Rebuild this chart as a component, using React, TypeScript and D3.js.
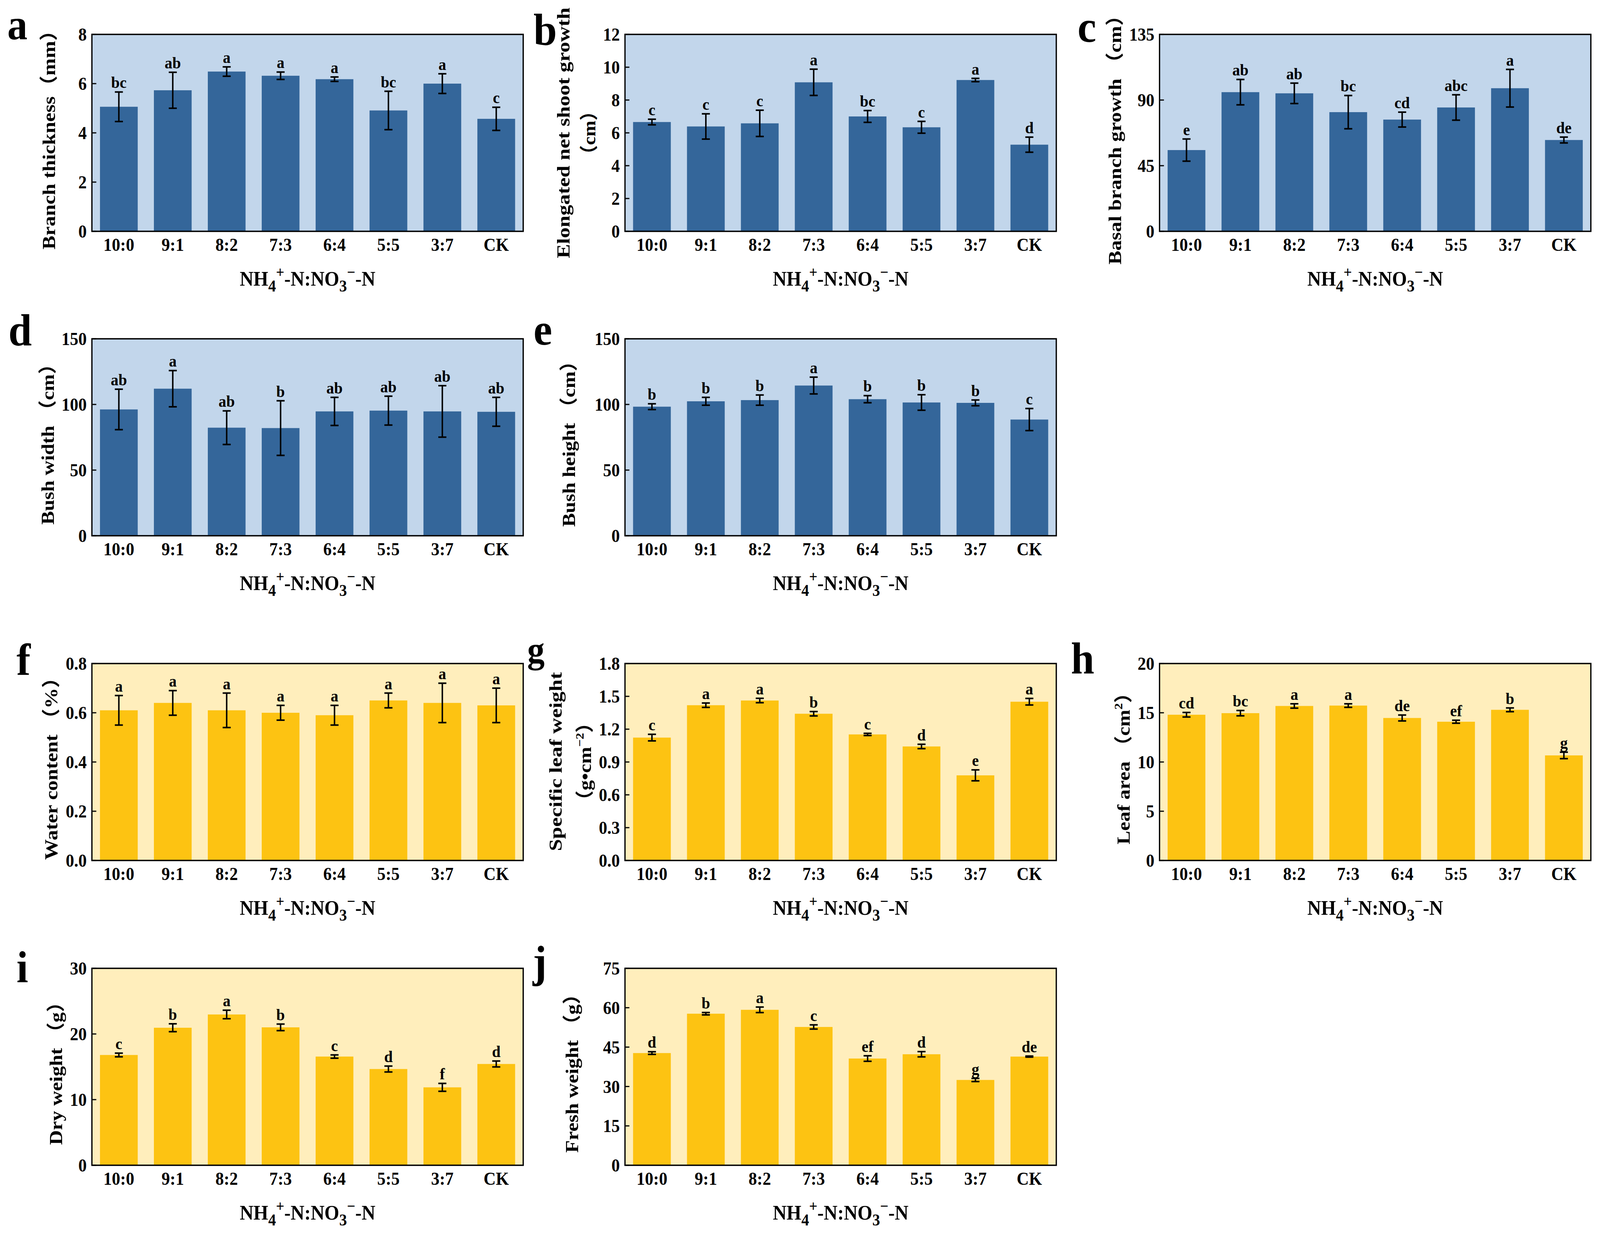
import React from "react";
import * as d3 from "d3";

// treatments (NH4+-N : NO3--N ratio)
const categories = ["10:0", "9:1", "8:2", "7:3", "6:4", "5:5", "3:7", "CK"];

// a - branch thickness (mm)
const branchThickness = [5.06, 5.73, 6.49, 6.32, 6.18, 4.91, 6.0, 4.57];
const branchThicknessErr = [0.6, 0.73, 0.19, 0.15, 0.09, 0.78, 0.4, 0.47];
const branchThicknessSig = ["bc", "ab", "a", "a", "a", "bc", "a", "c"];
const ticksA = [0, 2, 4, 6, 8];

// b - elongated net shoot growth (cm)
const shootGrowth = [6.66, 6.39, 6.58, 9.08, 7.0, 6.34, 9.22, 5.28];
const shootGrowthErr = [0.17, 0.77, 0.8, 0.8, 0.36, 0.36, 0.1, 0.46];
const shootGrowthSig = ["c", "c", "c", "a", "bc", "c", "a", "d"];
const ticksB = [0, 2, 4, 6, 8, 10, 12];

// c - basal branch growth (cm)
const basalGrowth = [55.7, 95.4, 94.6, 81.7, 76.6, 84.9, 98.1, 62.6];
const basalGrowthErr = [7.6, 8.7, 7.0, 11.4, 5.1, 8.7, 12.9, 2.0];
const basalGrowthSig = ["e", "ab", "ab", "bc", "cd", "abc", "a", "de"];
const ticksC = [0, 45, 90, 135];

// d - bush width (cm)
const bushWidth = [96.2, 112.0, 82.3, 82.0, 94.7, 95.3, 94.7, 94.4];
const bushWidthErr = [15.4, 13.8, 12.8, 20.8, 10.7, 11.0, 19.6, 11.0];
const bushWidthSig = ["ab", "a", "ab", "b", "ab", "ab", "ab", "ab"];
const ticksD = [0, 50, 100, 150];

// e - bush height (cm)
const bushHeight = [98.3, 102.4, 103.3, 114.4, 104.0, 101.5, 101.2, 88.5];
const bushHeightErr = [2.2, 3.0, 3.9, 6.4, 2.7, 5.9, 2.2, 8.4];
const bushHeightSig = ["b", "b", "b", "a", "b", "b", "b", "c"];
const ticksE = [0, 50, 100, 150];

// f - water content
const waterContent = [0.61, 0.64, 0.61, 0.6, 0.59, 0.65, 0.64, 0.63];
const waterContentErr = [0.06, 0.05, 0.07, 0.03, 0.04, 0.03, 0.08, 0.07];
const waterContentSig = ["a", "a", "a", "a", "a", "a", "a", "a"];
const ticksF = [0, 0.2, 0.4, 0.6, 0.8];

// g - specific leaf weight
const leafWeight = [1.123, 1.419, 1.462, 1.341, 1.152, 1.042, 0.778, 1.451];
const leafWeightErr = [0.03, 0.02, 0.02, 0.02, 0.01, 0.02, 0.05, 0.03];
const leafWeightSig = ["c", "a", "a", "b", "c", "d", "e", "a"];
const ticksG = [0, 0.3, 0.6, 0.9, 1.2, 1.5, 1.8];

// h - leaf area (cm2)
const leafArea = [14.8, 14.96, 15.69, 15.73, 14.47, 14.09, 15.3, 10.67];
const leafAreaErr = [0.23, 0.27, 0.22, 0.18, 0.3, 0.15, 0.19, 0.33];
const leafAreaSig = ["cd", "bc", "a", "a", "de", "ef", "b", "g"];
const ticksH = [0, 5, 10, 15, 20];

// i - dry weight (g)
const dryWeight = [16.8, 20.95, 22.97, 21.01, 16.56, 14.66, 11.87, 15.43];
const dryWeightErr = [0.28, 0.6, 0.65, 0.5, 0.25, 0.45, 0.6, 0.45];
const dryWeightSig = ["c", "b", "a", "b", "c", "d", "f", "d"];
const ticksI = [0, 10, 20, 30];

// j - fresh weight (g)
const freshWeight = [42.73, 57.72, 59.2, 52.67, 40.65, 42.28, 32.49, 41.39];
const freshWeightErr = [0.5, 0.45, 1.05, 0.8, 1.05, 1.0, 0.6, 0.2];
const freshWeightSig = ["d", "b", "a", "c", "ef", "d", "g", "de"];
const ticksJ = [0, 15, 30, 45, 60, 75];

const FONT = "'Liberation Serif', 'Times New Roman', 'Noto Sans CJK SC', serif";
const FIG_W = 4370;
const FIG_H = 3163;
const W = 1178;
const H = 504;
const colX = [251, 1707, 3167];
const rowY = [88, 867, 1698, 2478];

const themes = {
  blue: { bg: "#c2d6eb", bar: "#34669a" },
  yellow: { bg: "#ffeebc", bar: "#fdc312" },
};

type Seg = { t: string; sup?: boolean };

interface PanelDef {
  label: string;
  col: number;
  row: number;
  values: number[];
  errs: number[];
  sig: string[];
  ticks: number[];
  decimals: number;
  theme: "blue" | "yellow";
  title: Seg[][];
  titleX: number[]; // offset of each title line from the plot's left edge
  titleDy: number[]; // offset of the line centre from the plot's middle
  titleLen: number[];
  labelPos: [number, number];
  labelSize?: number;
}

const panels: PanelDef[] = [
  { label: "a", col: 0, row: 0, values: branchThickness, errs: branchThicknessErr, sig: branchThicknessSig, ticks: ticksA, decimals: 0, theme: "blue",
    title: [[{ t: "Branch thickness（mm）" }]], titleX: [-118], titleDy: [5], titleLen: [587], labelPos: [-231, 12], labelSize: 110 },
  { label: "b", col: 1, row: 0, values: shootGrowth, errs: shootGrowthErr, sig: shootGrowthSig, ticks: ticksB, decimals: 0, theme: "blue",
    title: [[{ t: "Elongated net shoot growth" }], [{ t: "（cm）" }]], titleX: [-168, -98], titleDy: [0, 0], titleLen: [642, 161], labelPos: [-250, 27] },
  { label: "c", col: 2, row: 0, values: basalGrowth, errs: basalGrowthErr, sig: basalGrowthSig, ticks: ticksC, decimals: 0, theme: "blue",
    title: [[{ t: "Basal branch growth （cm）" }]], titleX: [-122], titleDy: [5], titleLen: [664], labelPos: [-224, 19] },
  { label: "d", col: 0, row: 1, values: bushWidth, errs: bushWidthErr, sig: bushWidthSig, ticks: ticksD, decimals: 0, theme: "blue",
    title: [[{ t: "Bush width （cm）" }]], titleX: [-121], titleDy: [5], titleLen: [437], labelPos: [-228, 17] },
  { label: "e", col: 1, row: 1, values: bushHeight, errs: bushHeightErr, sig: bushHeightSig, ticks: ticksE, decimals: 0, theme: "blue",
    title: [[{ t: "Bush height （cm）" }]], titleX: [-154], titleDy: [4], titleLen: [450], labelPos: [-250, 15] },
  { label: "f", col: 0, row: 2, values: waterContent, errs: waterContentErr, sig: waterContentSig, ticks: ticksF, decimals: 1, theme: "yellow",
    title: [[{ t: "Water content （%）" }]], titleX: [-111], titleDy: [4], titleLen: [493], labelPos: [-206, 29] },
  { label: "g", col: 1, row: 2, values: leafWeight, errs: leafWeightErr, sig: leafWeightSig, ticks: ticksG, decimals: 1, theme: "yellow",
    title: [[{ t: "Specific leaf weight" }], [{ t: "（g•cm" }, { t: "−2", sup: true }, { t: "）" }]], titleX: [-190, -110], titleDy: [-1, -1], titleLen: [458, 252],
    labelPos: [-267, -2], labelSize: 95 },
  { label: "h", col: 2, row: 2, values: leafArea, errs: leafAreaErr, sig: leafAreaSig, ticks: ticksH, decimals: 0, theme: "yellow",
    title: [[{ t: "Leaf area （cm" }, { t: "2", sup: true }, { t: "）" }]], titleX: [-99], titleDy: [4], titleLen: [414], labelPos: [-242, 26] },
  { label: "i", col: 0, row: 3, values: dryWeight, errs: dryWeightErr, sig: dryWeightSig, ticks: ticksI, decimals: 0, theme: "yellow",
    title: [[{ t: "Dry weight （g）" }]], titleX: [-98], titleDy: [4], titleLen: [392], labelPos: [-206, 36] },
  { label: "j", col: 1, row: 3, values: freshWeight, errs: freshWeightErr, sig: freshWeightSig, ticks: ticksJ, decimals: 0, theme: "yellow",
    title: [[{ t: "Fresh weight （g）" }]], titleX: [-145], titleDy: [4], titleLen: [432], labelPos: [-252, 22] },
];

function TitleLine({ segs }: { segs: Seg[] }) {
  // superscripts shift up (towards screen-left once rotated) and come back
  const out: React.ReactNode[] = [];
  let raised = false;
  segs.forEach((s, i) => {
    if (s.sup) {
      out.push(<tspan key={i} fontSize={32} dy={-20}>{s.t}</tspan>);
      raised = true;
    } else {
      out.push(<tspan key={i} dy={raised ? 20 : 0}>{s.t}</tspan>);
      raised = false;
    }
  });
  return <>{out}</>;
}

function Panel({ p }: { p: PanelDef }) {
  const left = colX[p.col];
  const top = rowY[p.row];
  const theme = themes[p.theme];

  const x = d3.scaleBand<string>().domain(categories).range([0, W]).paddingInner(0.3).paddingOuter(0.15);
  const y = d3.scaleLinear().domain([0, p.ticks[p.ticks.length - 1]]).range([H, 0]);
  const fmt = d3.format(`.${p.decimals}f`);
  const bw = x.bandwidth();
  const mid = (c: string) => (x(c) ?? 0) + bw / 2;

  return (
    <g transform={`translate(${left},${top})`}>
      <rect x={0} y={0} width={W} height={H} fill={theme.bg} />
      {categories.map((c, i) => (
        <rect key={c} x={x(c)} y={y(p.values[i])} width={bw} height={H - y(p.values[i])} fill={theme.bar} />
      ))}
      {categories.map((c, i) => {
        const cx = mid(c);
        const hi = y(p.values[i] + p.errs[i]);
        const lo = y(p.values[i] - p.errs[i]);
        return (
          <g key={c} stroke="#000" strokeWidth={4}>
            <line x1={cx} x2={cx} y1={hi} y2={lo} />
            <line x1={cx - 11} x2={cx + 11} y1={hi} y2={hi} />
            <line x1={cx - 11} x2={cx + 11} y1={lo} y2={lo} />
          </g>
        );
      })}
      {categories.map((c, i) => (
        <text key={c} x={mid(c)} y={y(p.values[i] + p.errs[i]) - 10} textAnchor="middle"
          fontFamily={FONT} fontWeight="bold" fontSize={42}>{p.sig[i]}</text>
      ))}
      {/* y ticks, pointing inward */}
      {p.ticks.map((t) => (
        <g key={t} transform={`translate(0,${y(t)})`}>
          <line x1={0} x2={12} stroke="#000" strokeWidth={3} />
          <text x={-14} dy="0.35em" textAnchor="end" fontFamily={FONT} fontWeight="bold" fontSize={46}>{fmt(t)}</text>
        </g>
      ))}
      {categories.map((c) => (
        <text key={c} x={mid(c)} y={H + 50} textAnchor="middle" fontFamily={FONT} fontWeight="bold" fontSize={46}>{c}</text>
      ))}
      <rect x={0} y={0} width={W} height={H} fill="none" stroke="#000" strokeWidth={3.5} />
      {/* x axis title */}
      <text x={W / 2} y={H + 139} textAnchor="middle" fontFamily={FONT} fontWeight="bold" fontSize={52}>
        NH
        <tspan fontSize={42} dy={15}>4</tspan>
        <tspan fontSize={40} dy={-36}>+</tspan>
        <tspan dy={21}>-N:NO</tspan>
        <tspan fontSize={42} dy={15}>3</tspan>
        <tspan fontSize={40} dy={-36}>−</tspan>
        <tspan dy={21}>-N</tspan>
      </text>
      {/* y axis title */}
      {p.title.map((line, li) => (
        <text key={li} transform={`translate(${p.titleX[li]},${H / 2 + p.titleDy[li]}) rotate(-90)`} y={17} textAnchor="middle"
          textLength={p.titleLen[li]} lengthAdjust="spacingAndGlyphs"
          fontFamily={FONT} fontWeight="bold" fontSize={50}>
          <TitleLine segs={line} />
        </text>
      ))}
      <text x={p.labelPos[0]} y={p.labelPos[1]} fontFamily={FONT} fontWeight="bold" fontSize={p.labelSize ?? 115}>{p.label}</text>
    </g>
  );
}

export default function App() {
  return (
    <svg viewBox={`0 0 ${FIG_W} ${FIG_H}`} preserveAspectRatio="none"
      style={{ position: "fixed", left: 0, top: 0, width: "100vw", height: "100vh", background: "#fff", display: "block" }}>
      <rect width={FIG_W} height={FIG_H} fill="#fff" />
      {panels.map((p) => (
        <Panel key={p.label} p={p} />
      ))}
    </svg>
  );
}
